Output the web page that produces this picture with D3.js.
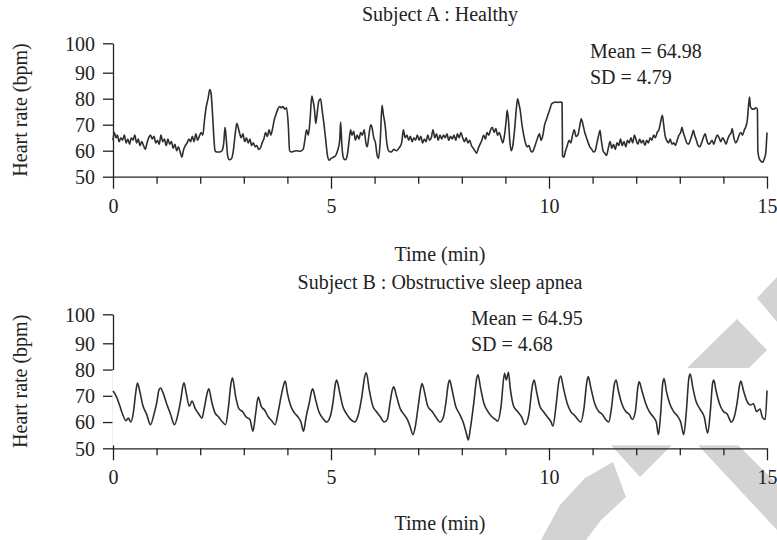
<!DOCTYPE html>
<html>
<head>
<meta charset="utf-8">
<script src="https://cdn.jsdelivr.net/npm/d3@7"></script>
<style>
  body { margin: 0; background: #fff; }
  svg { display: block; }
  text { font-family: "Liberation Serif", "DejaVu Serif", serif; fill: #222; }
</style>
</head>
<body>
<svg></svg>
<script>
const width = 777, height = 540;

// ---- data ----
const titles = ["Subject A : Healthy", "Subject B : Obstructive sleep apnea"];
const means = ["Mean = 64.98", "Mean = 64.95"];
const sds = ["SD = 4.79", "SD = 4.68"];
const yTicks = [50, 60, 70, 80, 90, 100];
const xTicks = d3.range(0, 16);
const xLabels = [0, 5, 10, 15];

// Subject A: time (min) and heart rate (bpm)
const tA = [0,0.03,0.07,0.1,0.14,0.18,0.22,0.26,0.3,0.34,0.38,0.42,0.46,0.5,0.54,0.58,0.62,0.66,0.7,0.74,0.78,0.82,0.86,0.9,0.94,0.98,
  1.02,1.06,1.1,1.14,1.18,1.22,1.26,1.3,1.34,1.38,1.42,1.46,1.5,1.54,1.58,1.62,1.66,1.7,1.74,1.78,1.82,1.86,1.9,1.94,1.98,
  2.02,2.06,2.1,2.14,2.18,2.22,2.25,2.28,2.31,2.34,2.38,2.44,2.5,2.54,2.57,2.6,2.63,2.67,2.72,2.76,2.8,2.84,2.87,2.9,2.94,2.98,
  3.02,3.06,3.1,3.14,3.18,3.22,3.26,3.3,3.34,3.38,3.42,3.46,3.5,3.54,3.58,3.62,3.66,3.7,3.74,3.78,3.82,3.86,3.9,3.94,3.98,
  4.02,4.05,4.1,4.2,4.3,4.36,4.4,4.44,4.48,4.52,4.56,4.59,4.62,4.65,4.68,4.72,4.76,4.8,4.84,4.88,4.92,4.96,
  5,5.05,5.1,5.15,5.2,5.22,5.25,5.29,5.33,5.37,5.41,5.45,5.48,5.52,5.56,5.6,5.64,5.68,5.72,5.76,5.8,5.83,5.87,5.91,5.94,5.98,
  6.02,6.06,6.09,6.13,6.17,6.2,6.24,6.28,6.32,6.38,6.44,6.5,6.56,6.62,6.66,6.7,6.74,6.78,6.82,6.86,6.9,6.94,6.98,
  7.02,7.06,7.1,7.14,7.18,7.22,7.26,7.3,7.34,7.38,7.42,7.46,7.5,7.54,7.58,7.62,7.66,7.7,7.74,7.78,7.82,7.86,7.9,7.94,7.98,
  8.02,8.06,8.1,8.14,8.18,8.22,8.26,8.3,8.34,8.38,8.42,8.46,8.5,8.54,8.58,8.62,8.66,8.7,8.74,8.78,8.82,8.86,8.9,8.94,8.98,
  9.02,9.04,9.07,9.1,9.13,9.17,9.21,9.25,9.28,9.31,9.34,9.38,9.42,9.46,9.5,9.54,9.58,9.62,9.66,9.7,9.74,9.78,9.82,9.86,9.9,9.94,9.98,
  10.02,10.06,10.1,10.15,10.2,10.27,10.3,10.31,10.34,10.38,10.42,10.46,10.5,10.54,10.58,10.62,10.66,10.7,10.74,10.78,10.82,10.86,10.9,10.94,10.98,
  11.02,11.06,11.1,11.14,11.17,11.2,11.24,11.28,11.32,11.36,11.4,11.44,11.48,11.52,11.56,11.6,11.64,11.68,11.72,11.76,11.8,11.84,11.88,11.92,11.96,
  12,12.04,12.08,12.12,12.16,12.2,12.24,12.28,12.32,12.36,12.4,12.44,12.48,12.52,12.56,12.6,12.63,12.66,12.7,12.74,12.78,12.82,12.86,12.9,12.94,12.98,
  13.02,13.05,13.08,13.12,13.16,13.2,13.24,13.28,13.31,13.34,13.38,13.42,13.46,13.5,13.54,13.58,13.62,13.66,13.7,13.74,13.78,13.82,13.86,13.9,13.94,13.98,
  14.02,14.06,14.1,14.14,14.18,14.2,14.24,14.28,14.32,14.36,14.4,14.44,14.48,14.52,14.55,14.58,14.6,14.62,14.66,14.7,14.74,14.78,14.79,14.82,14.86,14.9,14.94,14.97,15];
const hrA = [64,67,65,66,63.5,65,64,66,63,64.5,62.5,65,64,66,63,64.5,62,63.5,62,60.5,63,65,66,64.5,65.5,63,
  64,62.5,66,63.5,64.5,62,64.5,62.5,63.5,61,62.5,60,61.5,59.5,57.5,60.5,62,63,64.5,63.5,65.5,63.5,66.5,64,65.5,
  67,66,72,77,80,83.5,82,75,66,60,59.5,59.5,60,63,69,64,58,56.5,57,60,66,70.5,69,67,65,66.5,
  63.5,65,63,64.5,62,63,61.5,62,60.5,61,63,64.5,67,65.5,68,66,68.5,72,74,76,77,76.5,77,76,76.5,
  70,60,59.5,60,59.8,60.5,64,68,66,72,81,79,76,70.5,74,79,80,75,70,64,58,56.3,
  57,57.5,58,60,64,71,62,57,56.5,58,63,68,66,67.5,64,66,64.5,67,66,68,63,61.5,66,70,69,65,
  63,58,57,64,77.5,74,70,63,60,59.5,60.5,60,61,63,68,65,66,64,65.5,63.5,65,64,66,
  64,65.5,63,64.5,63.5,66,64,65,68,65,66.5,64,66,64.5,66,65,66.5,64,65.5,64.5,66,64,66.5,65,67,
  65,63.5,65,63,64,62,61,60,59,61,62.5,64,66,64.5,67,66,68,69,67,68.5,66,67,65,63,66,
  72,75.5,72,64,60,62,68,76,80,78,75.5,70,66,63,61.5,62,60,59.5,61,63,65,66.5,64,66,70,72,74,
  76,78,78.5,78.7,78.6,78.7,78.5,58,57.5,60,62,64,63,66,68,65.5,66,69,72.3,70,67,65,63,61.4,60.5,
  59.5,60,63,66,67.8,64,60,59,58.2,61,63.5,61,62.5,60.5,63,62,64.5,62,63.5,61.5,64,63,65,63,66,
  64,62.5,64.5,63,64,62,64,63,65,64,66,65,67,68,71,73.6,70,66,64,63,64.5,62.5,63,62,64,66,
  67,69,67,65,63,62.5,64,66,67.8,66,64,62,61.5,63,65,66.5,64,62.5,63,64,62.5,64.5,66,65,63.5,65,
  64,62.5,64.5,66,67,68.5,65,63,64,66,67,66,68,69.5,72,78,80.6,77,76,76,76.5,76,60,57,56,55.6,57,59,67];

// Subject B: time (min) and heart rate (bpm)
const tB = [0,0.07,0.15,0.22,0.3,0.35,0.41,0.47,0.52,0.56,0.61,0.69,0.77,0.86,0.94,1.01,1.05,1.09,1.15,1.23,1.32,1.41,1.49,1.56,1.6,1.63,1.68,1.75,1.81,1.89,1.97,
  2.04,2.09,2.16,2.2,2.26,2.34,2.42,2.51,2.58,2.65,2.7,2.74,2.81,2.89,2.97,3.05,3.14,3.21,3.27,3.33,3.4,3.48,3.56,3.64,3.72,3.79,3.87,3.92,3.95,
  4,4.08,4.16,4.24,4.31,4.37,4.43,4.51,4.55,4.58,4.64,4.72,4.81,4.9,4.98,5.05,5.1,5.13,5.19,5.27,5.36,5.45,5.54,5.63,5.71,5.77,5.81,5.88,5.96,
  6.04,6.13,6.22,6.29,6.36,6.41,6.44,6.5,6.59,6.67,6.75,6.81,6.88,6.93,7,7.06,7.09,7.15,7.22,7.32,7.4,7.5,7.58,7.64,7.69,7.72,7.78,7.86,7.95,
  8.03,8.1,8.15,8.2,8.28,8.34,8.37,8.43,8.51,8.6,8.69,8.77,8.83,8.9,8.98,9.02,9.07,9.11,9.19,9.28,9.37,9.45,9.54,9.62,9.66,9.71,9.79,9.87,9.96,
  10.05,10.09,10.16,10.23,10.27,10.33,10.42,10.5,10.59,10.66,10.73,10.8,10.87,10.9,10.96,11.05,11.14,11.22,11.3,11.37,11.43,11.5,11.54,11.59,11.67,11.76,11.84,11.91,11.98,
  12.04,12.07,12.13,12.22,12.3,12.39,12.46,12.51,12.56,12.61,12.64,12.69,12.77,12.86,12.96,13.02,13.09,13.15,13.21,13.24,13.3,13.37,13.46,13.56,13.64,13.7,13.75,13.78,13.83,13.91,
  14,14.09,14.18,14.25,14.32,14.37,14.4,14.46,14.54,14.62,14.69,14.76,14.84,14.89,14.96,15];
const hrB = [71.8,70,66.5,63,60.5,61.5,60,64,71,74.9,72,66,63,59,63,68,72,73,71,67,63,59,63,69,73.5,75,71,66,68,65,63,
  61.5,65,71,72.7,68,63.5,62,60,59,66,74,76.9,70,65,64,62,61,56.5,63,69.5,66,64.5,62,60.5,59,64,71,74.5,75.6,
  71,66,63.5,62,60,56.5,62,68,71.5,72.7,69,64,61.5,60,62,68,74.5,76,72,66,63,61,60,63,70,77,78.8,72,66,
  64,62,60,61,68,72.5,73.4,70,65,63,61,58.5,55.2,58,66,73,74.7,71,66,64,62,60,62,68,74.5,76,72,66,63,
  60,56,53.2,58,68,76.5,78,73,67,64,62,61,60.4,66,78.6,76,79,73,66,64,62,59,63,74,76,72,66,64,62,
  60,58.4,66,76,77.5,73,67,64,62.5,61,60,65,75.5,77.3,73,67,64,63,61,60,65,74.5,76,72,67,64,63,61,64,
  73.5,75.3,72,67,64,62,60,55.2,63,75,76.6,72,67,64,62,60,55.2,64,77,78.3,73,68,65,62,55.8,64,74.5,76,72,67,
  64,63,60,62,68,74,75.6,72,68,66.5,67,64,65,62,61,72];

// ---- layout ----
const svg = d3.select("svg")
    .attr("width", width)
    .attr("height", height)
    .attr("viewBox", [0, 0, width, height]);

const x = d3.scaleLinear().domain([0, 15]).range([113, 767]);

// watermark shapes behind the lower panel
const wm = svg.append("g").attr("fill", "#d3d3d3");
[
  [[757,298],[777,277],[777,322]],
  [[687,368],[737,319],[767,350],[749,368]],
  [[610,444],[673,444],[640,477]],
  [[697,444],[737,444],[777,484],[777,530]],
  [[613,462],[626,497],[601,520],[586,540],[541,540],[560,505],[585,478]]
].forEach(p => wm.append("path").attr("d", d3.line()(p) + "Z"));

const panels = [
  {t: tA, hr: hrA, yr: [176.7, 72.7, 43.3], title: 21, stX: 590, meanY: 58, sdY: 84, xLab: 36, timeY: 261, white: false},
  {t: tB, hr: hrB, yr: [448.3, 343.3, 314.3], title: 289, stX: 471, meanY: 325, sdY: 351, xLab: 36, timeY: 530, white: true}
];

panels.forEach((p, i) => {
  const y = d3.scaleLinear().domain([50, 90, 100]).range(p.yr);
  const g = svg.append("g");
  const y0 = p.yr[0];

  // y axis
  const yAxis = g.append("g")
      .attr("transform", `translate(${x(0)},0)`)
      .call(d3.axisLeft(y).tickValues(yTicks).tickSize(10).tickSizeOuter(0).tickPadding(8));
  yAxis.selectAll("path, line").attr("stroke", "#222").attr("stroke-width", 1.3);
  yAxis.selectAll("text").attr("font-size", 20).attr("dy", "0.34em")
      .attr("font-family", "Liberation Serif, serif").attr("fill", "#222");

  // x axis
  const xAxis = g.append("g")
      .attr("transform", `translate(0,${y0})`)
      .call(d3.axisBottom(x).tickValues(xTicks).tickSize(7).tickSizeOuter(0)
        .tickFormat(d => xLabels.includes(d) ? d : ""));
  xAxis.selectAll("path, line").attr("stroke", "#222").attr("stroke-width", 1.3);
  xAxis.selectAll(".tick line").filter(d => xLabels.includes(d)).attr("y2", 12);
  xAxis.selectAll("text").attr("font-size", 20).attr("y", p.xLab).attr("dy", 0)
      .attr("font-family", "Liberation Serif, serif").attr("fill", "#222");

  // white box over the plot band (lower panel only)
  if (p.white) {
    g.append("rect").attr("x", x(0) - 0.5).attr("y", y(80) + 0.5)
      .attr("width", width - x(0)).attr("height", y(51.3) - y(80)).attr("fill", "#fff");
  }

  // series
  g.append("path")
      .datum(p.t.map((t, j) => [t, p.hr[j]]))
      .attr("fill", "none")
      .attr("stroke", "#2e2e2e")
      .attr("stroke-width", 1.6)
      .attr("stroke-linejoin", "round")
      .attr("d", d3.line().curve(d3.curveMonotoneX).x(d => x(d[0])).y(d => y(d[1])));

  // texts
  g.append("text").attr("x", 440).attr("y", p.title).attr("text-anchor", "middle")
      .attr("font-size", 20).text(titles[i]);
  g.append("text").attr("x", p.stX).attr("y", p.meanY).attr("font-size", 20).text(means[i]);
  g.append("text").attr("x", p.stX).attr("y", p.sdY).attr("font-size", 20).text(sds[i]);
  g.append("text").attr("x", 440).attr("y", p.timeY).attr("text-anchor", "middle")
      .attr("font-size", 20).text("Time (min)");
  g.append("text")
      .attr("transform", `translate(27,${(y(50) + y(100)) / 2}) rotate(-90)`)
      .attr("text-anchor", "middle").attr("font-size", 20).text("Heart rate (bpm)");
});
</script>
</body>
</html>
